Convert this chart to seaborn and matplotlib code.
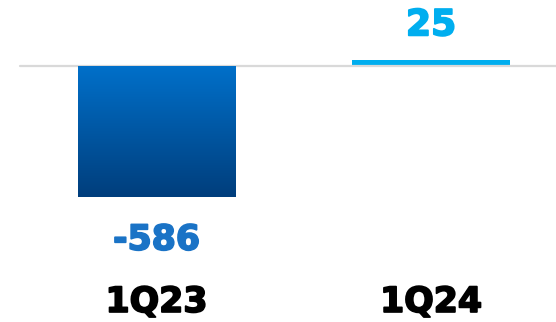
import numpy as np
import pandas as pd
import matplotlib
matplotlib.use("Agg")
import matplotlib.pyplot as plt
import matplotlib.patheffects as pe
from matplotlib.colors import LinearSegmentedColormap
import seaborn as sns

# Quarterly values
quarters = ["1Q23", "1Q24"]
values = [-586, 25]
value_labels = ["-586", "25"]

sns.set_theme(style="white")
plt.rcParams["font.family"] = ["DejaVu Sans"]

df = pd.DataFrame({"quarter": quarters, "value": values})

fig = plt.figure(figsize=(5.56, 3.22), dpi=100)
ax = fig.add_axes([0, 0, 1, 1])

sns.barplot(data=df, x="quarter", y="value", ax=ax, width=0.574,
            palette=["#0068BF", "#00AEEF"], hue="quarter", legend=False,
            saturation=1, edgecolor="none", linewidth=0)

ax.set_xlim(-0.570, 1.455)
ax.set_ylim(-1145, 295)

# vertical gradient fill for the negative bar
grad_cmap = LinearSegmentedColormap.from_list("blue_grad", ["#0070CA", "#003E7C"])
for patch, v in zip(ax.patches, values):
    if v < 0:
        x0, y0 = patch.get_x(), patch.get_y()
        w, h = patch.get_width(), patch.get_height()
        grad = np.linspace(0, 1, 256).reshape(-1, 1)
        im = ax.imshow(grad, cmap=grad_cmap, aspect="auto",
                       extent=[x0, x0 + w, y0 + h, y0], origin="upper",
                       zorder=patch.get_zorder() + 0.1)
        im.set_clip_path(patch)

ax.axhline(0, xmin=20 / 556, xmax=1, color="#D9D9D9", linewidth=1.6, zorder=1)


def heavy(color):
    return [pe.withStroke(linewidth=1.3, foreground=color)]


label_colors = ["#1A73C6", "#00AEEF"]
for i, (v, txt, c) in enumerate(zip(values, value_labels, label_colors)):
    if v < 0:
        ax.annotate(txt, (i, v), xytext=(0, -38), textcoords="offset points",
                    ha="center", va="baseline", fontsize=25, fontweight="bold",
                    color=c, path_effects=heavy(c))
    else:
        ax.annotate(txt, (i, v), xytext=(0, 18), textcoords="offset points",
                    ha="center", va="baseline", fontsize=26, fontweight="bold",
                    color=c, path_effects=heavy(c))

for i, q in enumerate(quarters):
    ax.text(i, -1100, q, ha="center", va="baseline", fontsize=25,
            fontweight="bold", color="#000000", path_effects=heavy("#000000"))

ax.axis("off")
fig.savefig("out.png", dpi=100)
